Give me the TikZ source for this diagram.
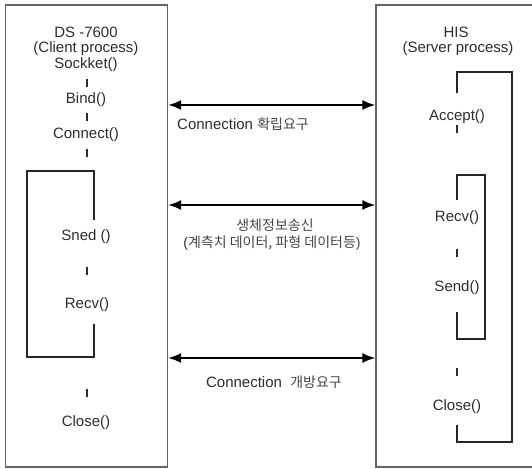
\documentclass[tikz,border=0pt]{standalone}
\usepackage{fontspec}
\setmainfont{Liberation Sans}
\newfontfamily\krfont{Noto Sans CJK KR}
\usepackage{xcolor}
\usetikzlibrary{arrows.meta}
\definecolor{boxgray}{RGB}{100,100,100}
\definecolor{txtgray}{RGB}{45,45,45}
\definecolor{krgray}{RGB}{70,70,70}

\tikzset{
  procbox/.style={draw=boxgray,line width=1.4pt,inner sep=0pt},
  call/.style={font=\fontsize{15}{18}\selectfont,text=txtgray,inner sep=0pt},
  msg/.style={font=\fontsize{15}{18}\selectfont,text=txtgray,inner sep=0pt},
  msgarrow/.style={{Latex[length=13pt,width=10pt]}-{Latex[length=13pt,width=10pt]},line width=1.6pt},
  loopline/.style={line width=1.8pt,black!85},
  sep/.style={line width=1.1pt,txtgray}
}

\begin{document}
\begin{tikzpicture}[x=1pt,y=-1pt]
  \useasboundingbox (0,0) rectangle (532,468);

  % Process boxes
  \node[procbox,minimum width=162pt,minimum height=462pt] (client) at (86.5,236) {};
  \node[procbox,minimum width=184pt,minimum height=462pt] (server) at (468,236) {};

  % Client side
  \node[call] (ds) at (86,32) {DS -7600};
  \node[call] (cproc) at (86,49) {(Client process)};
  \node[call] (sock) at (86,65) {Sockket()};
  \node[call] (bind) at (86,100) {Bind()};
  \node[call] (conn) at (86,135) {Connect()};
  \node[call] (csend) at (86,237) {Sned ()};
  \node[call] (crecv) at (87,305) {Recv()};
  \node[call] (cclose) at (86,423) {Close()};
  \foreach \y in {83,117,153,271,393}
    \draw[sep] (87,\y-4) -- (87,\y+4);
  \draw[loopline] (94,220) -- (94,171) -- (27,171) -- (27,357) -- (94,357) -- (94,324);

  % Server side
  \node[call] (his) at (456,32) {HIS};
  \node[call] (sproc) at (458,49) {(Server process)};
  \node[call] (accept) at (457,117) {Accept()};
  \node[call] (srecv) at (457,218) {Recv()};
  \node[call] (ssend) at (457,288) {Send()};
  \node[call] (sclose) at (457,407) {Close()};
  \foreach \y in {129,253,372}
    \draw[sep] (457,\y-4) -- (457,\y+4);
  \draw[loopline] (457,93) -- (457,72) -- (512,72) -- (512,442) -- (457,442) -- (457,425);
  \draw[loopline] (457,200) -- (457,175) -- (485,175) -- (485,339) -- (457,339) -- (457,312);

  % Messages
  \draw[msgarrow] (client.east |- 0,105) -- (server.west |- 0,105);
  \node[msg,anchor=west] (req) at (177,124) {Connection {\krfont\fontsize{14}{17}\selectfont\color{krgray} 확립요구}};

  \draw[msgarrow] (client.east |- 0,205) -- (server.west |- 0,205);
  \node[msg] (data) at (275,225) {\krfont\fontsize{14}{17}\selectfont\color{krgray}생체정보송신};
  \node[msg] (datadet) at (272,243) {\fontsize{14}{17}\selectfont(\krfont\color{krgray}계측치 데이터, 파형 데이터등\normalfont)};

  \draw[msgarrow] (client.east |- 0,358) -- (server.west |- 0,358);
  \node[msg] (rel) at (274,382) {Connection \ {\krfont\fontsize{14}{17}\selectfont\color{krgray}개방요구}};
\end{tikzpicture}
\end{document}
